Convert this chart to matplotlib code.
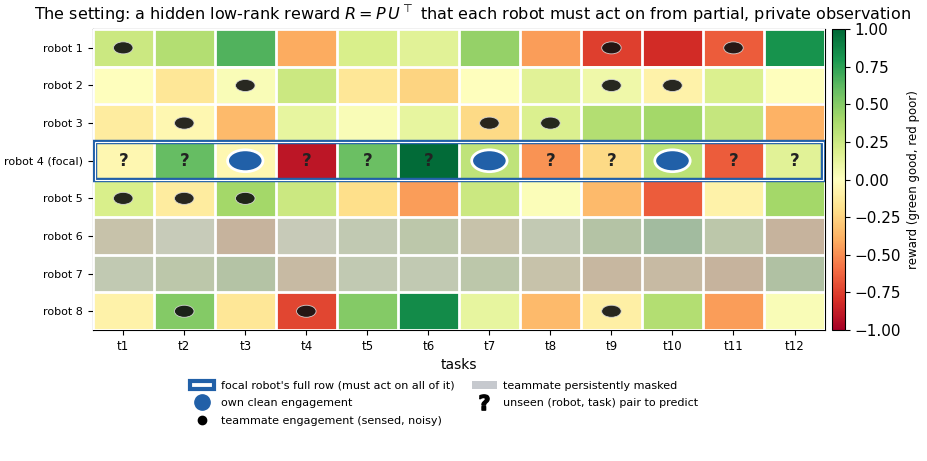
import numpy as np
import matplotlib
matplotlib.use("Agg")
import matplotlib.pyplot as plt
from matplotlib.patches import Rectangle, Circle, Patch
from matplotlib.lines import Line2D

robots = ["robot 1", "robot 2", "robot 3", "robot 4 (focal)",
          "robot 5", "robot 6", "robot 7", "robot 8"]
tasks = ["t%d" % i for i in range(1, 13)]

# hidden reward matrix R (rows = robots, cols = tasks)
reward = np.array([
    [0.25, 0.35, 0.65, -0.40, 0.20, 0.15, 0.45, -0.45, -0.75, -0.82, -0.65, 0.82],
    [0.00, -0.15, 0.03, 0.25, -0.15, -0.25, 0.00, 0.15, 0.08, -0.08, 0.18, 0.00],
    [-0.12, -0.05, -0.35, 0.12, 0.03, 0.12, -0.22, 0.18, 0.35, 0.40, 0.28, -0.38],
    [-0.05, 0.60, -0.05, -0.90, 0.58, 0.98, 0.30, -0.48, -0.22, 0.32, -0.65, 0.15],
    [0.20, -0.12, 0.40, 0.25, -0.20, -0.45, 0.25, 0.02, -0.35, -0.65, -0.08, 0.40],
    [-0.20, 0.00, -0.40, -0.02, 0.10, 0.20, -0.20, 0.08, 0.30, 0.50, 0.20, -0.40],
    [0.10, 0.20, 0.30, -0.30, 0.10, 0.10, 0.20, -0.20, -0.35, -0.30, -0.40, 0.35],
    [-0.08, 0.50, -0.15, -0.72, 0.50, 0.85, 0.12, -0.35, -0.10, 0.35, -0.45, 0.03],
])

focal_row = 3
masked_rows = [5, 6]
own_tasks = [2, 6, 9]  # focal robot's clean engagements
# teammate engagements (robot index, task index)
teammate_eng = [(0, 0), (0, 8), (0, 10),
                (1, 2), (1, 8), (1, 9),
                (2, 1), (2, 6), (2, 7),
                (4, 0), (4, 1), (4, 2),
                (7, 1), (7, 3), (7, 8)]

blue = "#2160a8"

fig = plt.figure(figsize=(9.27, 4.61), dpi=100)
ax = fig.add_axes([0.100, 0.284, 0.790, 0.653])
cax = fig.add_axes([0.8975, 0.284, 0.014, 0.653])

im = ax.imshow(reward, cmap="RdYlGn", vmin=-1, vmax=1, aspect="auto")

# teammates that are persistently masked
for r in masked_rows:
    ax.add_patch(Rectangle((-0.5, r - 0.5), len(tasks), 1, facecolor="#b0b6b8",
                           alpha=0.7, edgecolor="none", zorder=2))

# white cell grid
for k in range(len(tasks) + 1):
    ax.axvline(k - 0.5, color="white", lw=2, zorder=3)
for k in range(len(robots) + 1):
    ax.axhline(k - 0.5, color="white", lw=2, zorder=3)

# focal row outline
ax.add_patch(Rectangle((-0.47, focal_row - 0.5), len(tasks) - 0.06, 1, fill=False,
                       edgecolor=blue, lw=3.2, zorder=4))
ax.add_patch(Rectangle((-0.47, focal_row - 0.5), len(tasks) - 0.06, 1, fill=False,
                       edgecolor="white", lw=0.8, zorder=5))

# focal robot: own engagements and unseen pairs
for j in range(len(tasks)):
    if j in own_tasks:
        ax.add_patch(Circle((j, focal_row), 0.29, facecolor=blue, edgecolor="white",
                            lw=2, zorder=6))
    else:
        ax.text(j, focal_row, "?", ha="center", va="center", fontsize=12,
                fontweight="bold", color="#222222", zorder=6)

# teammate engagements
for r, c in teammate_eng:
    ax.add_patch(Circle((c, r), 0.16, facecolor="#111111", edgecolor="#dddddd",
                        lw=0.6, alpha=0.9, zorder=6))

ax.set_xticks(range(len(tasks)))
ax.set_xticklabels(tasks, fontsize=8.5)
ax.set_yticks(range(len(robots)))
ax.set_yticklabels(robots, fontsize=8)
ax.set_xlabel("tasks", fontsize=10)
ax.set_xlim(-0.5, len(tasks) - 0.5)
ax.set_ylim(len(robots) - 0.5, -0.5)

cb = fig.colorbar(im, cax=cax)
cb.set_label("reward (green good, red poor)", fontsize=8.5)
cb.ax.tick_params(labelsize=11)

fig.suptitle(r"The setting: a hidden low-rank reward $R = P\,U^\top$ that each robot "
             "must act on from partial, private observation",
             x=0.51, y=0.992, fontsize=11.5)

handles = [
    Patch(facecolor="white", edgecolor=blue, lw=3,
          label="focal robot's full row (must act on all of it)"),
    Line2D([], [], marker="o", color="none", markerfacecolor=blue,
           markeredgecolor=blue, markersize=11, label="own clean engagement"),
    Line2D([], [], marker="o", color="none", markerfacecolor="black",
           markeredgecolor="black", markersize=6,
           label="teammate engagement (sensed, noisy)"),
    Patch(facecolor="#c6c9ce", edgecolor="none", label="teammate persistently masked"),
    Line2D([], [], marker=r"$\mathbf{?}$", color="none", markerfacecolor="black",
           markeredgecolor="black", markersize=11,
           label="unseen (robot, task) pair to predict"),
]
fig.legend(handles=handles, loc="upper center", bbox_to_anchor=(0.479, 0.196),
           ncol=2, frameon=False, fontsize=8, handlelength=2.2,
           labelspacing=0.68, columnspacing=1.6, handletextpad=0.6)

fig.savefig("out.png", dpi=100)
